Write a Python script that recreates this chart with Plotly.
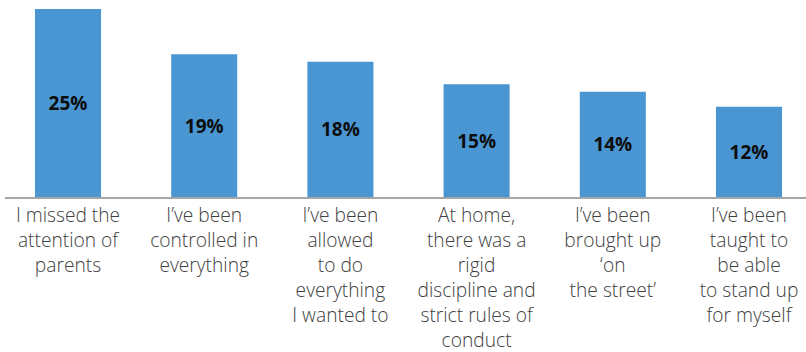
import plotly.graph_objects as go

# Survey responses: share of respondents choosing each statement
categories = [
    "I missed the<br>attention of<br>parents",
    "I’ve been<br>controlled in<br>everything",
    "I’ve been<br>allowed<br>to do<br>everything<br>I wanted to",
    "At home,<br>there was a<br>rigid<br>discipline and<br>strict rules of<br>conduct",
    "I’ve been<br>brought up<br>‘on<br>the street’",
    "I’ve been<br>taught to<br>be able<br>to stand up<br>for myself",
]
values = [25, 19, 18, 15, 14, 12]
value_labels = [f"{v}%" for v in values]

fig = go.Figure(
    go.Bar(
        x=list(range(len(categories))),
        y=values,
        text=value_labels,
        textposition="inside",
        insidetextanchor="middle",
        textangle=0,
        textfont=dict(family="Open Sans", size=19, color="#0d0d0d", weight="bold"),
        marker=dict(color="#4A96D2", line=dict(width=0)),
        width=0.485,
        hoverinfo="skip",
    )
)

fig.update_layout(
    width=806,
    height=352,
    margin=dict(l=5, r=0, t=0, b=155),
    paper_bgcolor="white",
    plot_bgcolor="white",
    showlegend=False,
    xaxis=dict(
        tickmode="array",
        tickvals=list(range(len(categories))),
        ticktext=categories,
        range=[-0.4626, 5.4185],
        showline=True,
        linecolor="#a6a6a6",
        linewidth=2,
        showgrid=False,
        zeroline=False,
        ticks="",
        automargin=False,
        tickfont=dict(family="Open Sans", size=19.2, color="#404040", weight=300),
        fixedrange=True,
    ),
    yaxis=dict(
        range=[0, 26.2],
        visible=False,
        fixedrange=True,
    ),
)

fig.write_html("out.html")
